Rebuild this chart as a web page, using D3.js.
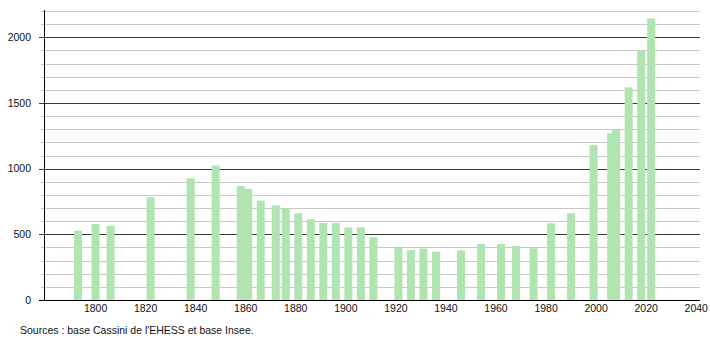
<!DOCTYPE html>
<html>
  <head>
    <meta charset="utf-8">
    <title>Évolution démographique</title>
    <script src="https://d3js.org/d3.v7.min.js"></script>
    <style>
      body { margin: 0; background: #fff; }
      text { font-family: "Liberation Sans", Arial, sans-serif; fill: #111; }
    </style>
  </head>
  <body>
    <svg id="chart"></svg>
   <script>
// census years and population
var years = [1793, 1800, 1806, 1822, 1838, 1848, 1858, 1861, 1866, 1872, 1876, 1881, 1886,
  1891, 1896, 1901, 1906, 1911, 1921, 1926, 1931, 1936, 1946, 1954, 1962, 1968, 1975,
  1982, 1990, 1999, 2006, 2008, 2013, 2018, 2022];
var population = [527, 579, 563, 782, 926, 1023, 868, 845, 756, 720, 698, 660, 614,
  586, 586, 553, 553, 480, 401, 381, 391, 368, 378, 426, 426, 411, 393,
  584, 660, 1180, 1269, 1300, 1619, 1898, 2144];
var xTicks = [1800, 1820, 1840, 1860, 1880, 1900, 1920, 1940, 1960, 1980, 2000, 2020, 2040];
var yTicks = [0, 500, 1000, 1500, 2000];
var sourceText = "Sources : base Cassini de l'EHESS et base Insee.";

var width = 710, height = 340;

var svg = d3.select("#chart")
  .attr("width", width)
  .attr("height", height);

var x = d3.scaleLinear()
  .domain([1779.4, 2041.5])
  .range([44, 700]);

var y = d3.scaleLinear()
  .domain([0, 2200])
  .range([300, 11]);

// minor grid every 100
var minor = d3.range(100, 2201, 100).filter(function(v) { return v % 500 !== 0; });
svg.append("g")
  .selectAll("line")
  .data(minor)
  .enter().append("line")
  .attr("x1", 41).attr("x2", 700)
  .attr("y1", function(d) { return Math.round(y(d)) + 0.5; })
  .attr("y2", function(d) { return Math.round(y(d)) + 0.5; })
  .style("stroke", "#c8c8c8")
  .style("stroke-width", 1);

// major grid every 500
svg.append("g")
  .selectAll("line")
  .data(yTicks.slice(1))
  .enter().append("line")
  .attr("x1", 39).attr("x2", 700)
  .attr("y1", function(d) { return Math.round(y(d)) + 0.5; })
  .attr("y2", function(d) { return Math.round(y(d)) + 0.5; })
  .style("stroke", "#3a3a3a")
  .style("stroke-width", 1);

// bars
svg.append("g")
  .selectAll("rect")
  .data(years)
  .enter().append("rect")
  .attr("x", function(d) { return x(d) - 4; })
  .attr("width", 8)
  .attr("y", function(d, i) { return y(population[i]); })
  .attr("height", function(d, i) { return y(0) - y(population[i]); })
  .style("fill", "#b0e4b0");

// axes lines
svg.append("line")
  .attr("x1", 44.5).attr("x2", 44.5)
  .attr("y1", 10).attr("y2", 300)
  .style("stroke", "#000");
svg.append("line")
  .attr("x1", 39).attr("x2", 700)
  .attr("y1", 300.5).attr("y2", 300.5)
  .style("stroke", "#000");

// y labels
svg.append("g")
  .selectAll("text")
  .data(yTicks)
  .enter().append("text")
  .attr("x", 31)
  .attr("y", function(d) { return y(d); })
  .attr("dy", "0.35em")
  .attr("text-anchor", "end")
  .style("font-size", "10.5px")
  .text(function(d) { return d; });

// x labels
svg.append("g")
  .selectAll("text")
  .data(xTicks)
  .enter().append("text")
  .attr("x", function(d) { return x(d); })
  .attr("y", 312)
  .attr("text-anchor", "middle")
  .style("font-size", "10.5px")
  .text(function(d) { return d; });

svg.append("text")
  .attr("x", 20)
  .attr("y", 334)
  .style("font-size", "10.5px")
  .text(sourceText);
   </script>
  </body>
</html>
